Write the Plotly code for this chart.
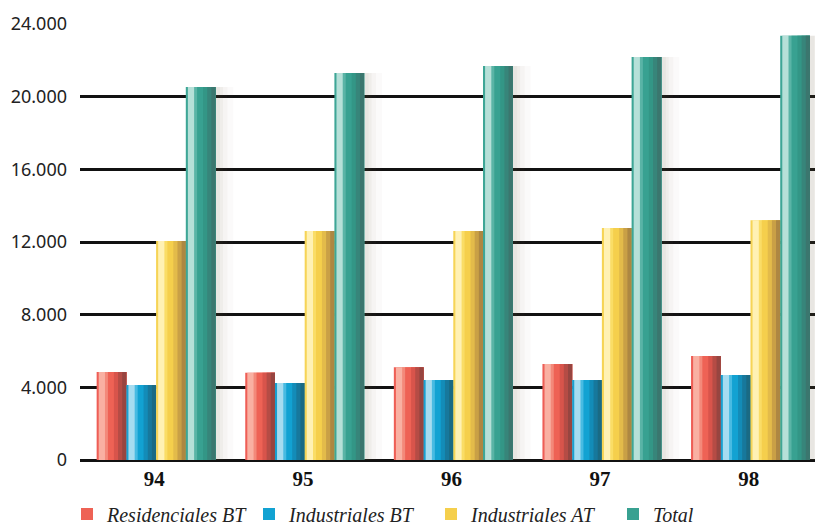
import plotly.graph_objects as go

years = ["94", "95", "96", "97", "98"]
series_names = ["Residenciales BT", "Industriales BT", "Industriales AT", "Total"]
residenciales_bt = [4840, 4800, 5100, 5280, 5720]
industriales_bt = [4130, 4240, 4400, 4400, 4680]
industriales_at = [12050, 12600, 12600, 12770, 13200]
total = [20530, 21300, 21690, 22180, 23350]
y_ticks = [0, 4000, 8000, 12000, 16000, 20000, 24000]

values = [residenciales_bt, industriales_bt, industriales_at, total]

# cylinder-like stripe palettes (left -> right)
palettes = [
    ["#ee5e56", "#f9b0a2", "#f3897a", "#ee6255", "#d8544b", "#b54c45", "#974540"],
    ["#18a0d0", "#a6dcf0", "#48bbe2", "#12a2d2", "#138cb8", "#17789c", "#1a6a84"],
    ["#f6d456", "#fff1b4", "#fadd66", "#f5cf4c", "#e3bb4a", "#c9a046", "#ad8742"],
    ["#3ea696", "#b6e0d8", "#5ab4a6", "#38a191", "#339686", "#37857a", "#3b766e"],
]
fracs = [0.0, 0.07, 0.28, 0.38, 0.58, 0.72, 0.86]
legend_colors = ["#ee6255", "#12a2d2", "#f5cf4c", "#38a191"]

bar_w = 0.2
group_left = -0.388
fig = go.Figure()

# soft shadow to the right of each group
sh0 = group_left + 4 * bar_w
for a, b, alpha in [(0.0, 0.12, 0.03), (0.0, 0.08, 0.04), (0.0, 0.05, 0.05), (0.0, 0.03, 0.05)]:
    fig.add_trace(go.Bar(
        x=years, y=total, offset=sh0 + a, width=b - a,
        marker=dict(color=f"rgba(120,110,85,{alpha})", line=dict(width=0)),
        showlegend=False, hoverinfo="skip"))

for i, (name, vals, pal) in enumerate(zip(series_names, values, palettes)):
    left = group_left + bar_w * i
    for j, col in enumerate(pal):
        f0 = fracs[j]
        fig.add_trace(go.Bar(
            x=years, y=vals, offset=left + bar_w * f0, width=bar_w * (1.0 - f0),
            marker=dict(color=col, line=dict(width=0)),
            name=name, legendgroup=name, showlegend=False,
            hovertemplate=name + ": %{y}<extra></extra>"))
    # legend entry
    fig.add_trace(go.Bar(
        x=[years[0]], y=[None], name=name, legendgroup=name,
        marker=dict(color=legend_colors[i], line=dict(width=0)),
        showlegend=True))

# the page body adds an 8px margin, so the figure is 8px smaller and margins shifted
W, H = 815, 520
fig.update_layout(
    width=W, height=H,
    margin=dict(l=72, r=0, t=16, b=68, autoexpand=False),
    paper_bgcolor="white", plot_bgcolor="white",
    barmode="overlay",
    separators=",.",
    showlegend=True,
    legend=dict(orientation="h", xref="container", x=59 / W, xanchor="left",
                yref="container", y=14 / H, yanchor="middle",
                font=dict(family="Liberation Serif", size=20, color="#222222", style="italic"),
                entrywidth=137, entrywidthmode="pixels", itemsizing="constant",
                traceorder="normal", bgcolor="rgba(0,0,0,0)"),
    xaxis=dict(type="category", range=[-0.5, 4.5], showgrid=False, zeroline=False,
               showline=False, ticks="", automargin=False,
               tickfont=dict(family="Liberation Serif", size=21, color="#111111", weight="bold"),
               ticklabelstandoff=4),
    yaxis=dict(range=[0, 24000], tickvals=y_ticks, tickformat=",d", automargin=False,
               showgrid=True, gridcolor="#111111", gridwidth=2.5,
               zeroline=True, zerolinecolor="#111111", zerolinewidth=3,
               showline=False, ticks="", ticklabelstandoff=12,
               tickfont=dict(family="Noto Sans", size=18, color="#222222")),
)

fig.write_html("out.html")
